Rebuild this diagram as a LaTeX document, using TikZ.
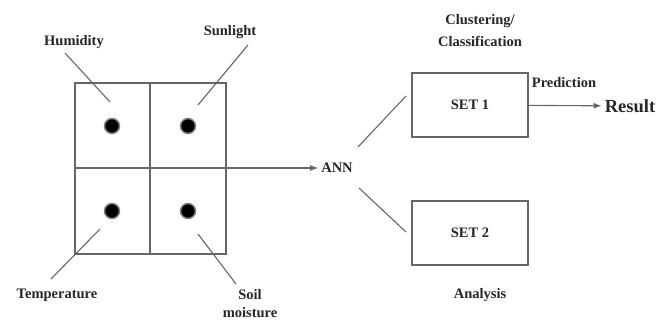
\documentclass[tikz,border=0pt]{standalone}
\usepackage{fontspec}
\setmainfont{Liberation Serif}
\usetikzlibrary{positioning, arrows.meta}

\tikzset{
  lbl/.style = {font=\bfseries\fontsize{14.5}{22}\selectfont, text=black!85, inner sep=3pt},
  wire/.style = {draw=black!60, line width=1.1pt},
  tip/.style = {-{Latex[length=8pt, width=6pt]}},
  sensor/.style = {circle, fill=black, draw=black!50, line width=1.5pt, minimum size=15pt, inner sep=0pt},
  setbox/.style = {draw=black!60, line width=1.1pt, minimum width=116pt, minimum height=64pt, lbl}
}

\begin{document}
\begin{tikzpicture}[x=1pt, y=-1pt]
\useasboundingbox (0,0) rectangle (667,322);

% sensor field
\draw[wire] (75,83) rectangle (226,254);
\draw[wire] (150,83) -- (150,254);
\draw[wire] (75,168) -- (226,168);

\node[sensor] (S1) at (112,126) {};
\node[sensor] (S2) at (188,126) {};
\node[sensor] (S3) at (112,211) {};
\node[sensor] (S4) at (188,211) {};

\node[lbl] (hum) at (74,42) {Humidity};
\node[lbl] (sun) at (230,32) {Sunlight};
\node[lbl] (temp) at (57,295) {Temperature};
\node[lbl, align=center, font=\bfseries\fontsize{14.5}{18}\selectfont] (soil) at (250,304) {Soil\\moisture};

\coordinate (h1) at (65,53);
\coordinate (h2) at (110,102);
\coordinate (s1) at (248,45);
\coordinate (s2) at (198,105);
\coordinate (t1) at (51,279);
\coordinate (t2) at (100,229);
\coordinate (m1) at (236,284);
\coordinate (m2) at (198,234);

\draw[wire] (h1) -- (h2);
\draw[wire] (s1) -- (s2);
\draw[wire] (t1) -- (t2);
\draw[wire] (m1) -- (m2);

% network and sets
\coordinate (out) at (226,168);
\node[lbl] (ann) at (337,168) {ANN};
\draw[wire, tip] (out) -- (ann);

\node[setbox] (set1) at (470,105) {SET 1};
\node[setbox] (set2) at (470,233) {SET 2};

\coordinate (a1) at (358,147);
\coordinate (b1) at (406,96);
\coordinate (a2) at (359,188);
\coordinate (b2) at (406,232);
\draw[wire] (a1) -- (b1);
\draw[wire] (a2) -- (b2);

\node[lbl, align=center] (clus) at (480,31) {Clustering/\\Classification};
\node[lbl] (anal) at (480,295) {Analysis};

\node[lbl, font=\bfseries\fontsize{18.5}{20}\selectfont] (res) at (630,106) {Result};
\draw[wire, tip] (set1) -- (res);
\node[lbl] (pred) at (564,83) {Prediction};
\end{tikzpicture}
\end{document}
